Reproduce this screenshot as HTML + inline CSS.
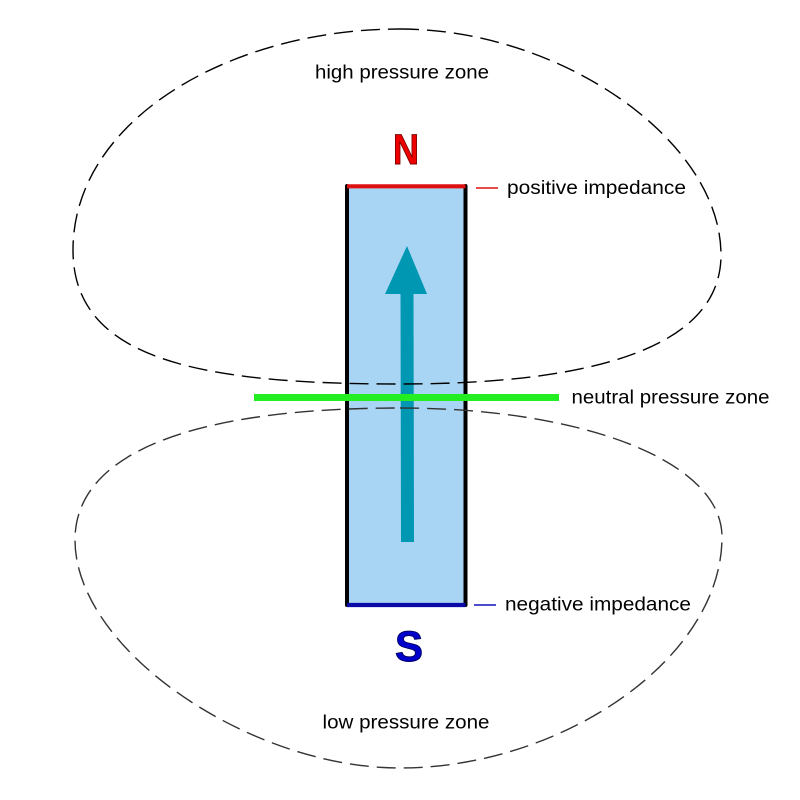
<!DOCTYPE html>
<html>
<head>
<meta charset="utf-8">
<style>
  html, body { margin: 0; padding: 0; background: #ffffff; }
  svg { display: block; }
  text { font-family: "Liberation Sans", Arial, sans-serif; }
</style>
</head>
<body>
<svg width="800" height="800" viewBox="0 0 800 800" xmlns="http://www.w3.org/2000/svg">
  <rect x="0" y="0" width="800" height="800" fill="#ffffff"/>

  <!-- magnet body -->
  <rect x="347" y="186" width="118.5" height="419" fill="#a8d5f3"/>
  <!-- arrow -->
  <polygon points="400.5,293 413.5,293 414,542 401,542" fill="#0097b3"/>
  <polygon points="407,246 385,294 427,294" fill="#0097b3"/>

  <!-- magnet borders -->
  <line x1="347" y1="186" x2="347" y2="605" stroke="#000" stroke-width="4" stroke-linecap="round"/>
  <line x1="465.5" y1="186" x2="465.5" y2="605" stroke="#000" stroke-width="4" stroke-linecap="round"/>
  <line x1="347" y1="186.3" x2="465.5" y2="186.3" stroke="#dd1111" stroke-width="4.2"/>
  <line x1="347" y1="605" x2="465.5" y2="605" stroke="#0a0aa8" stroke-width="4.2"/>

  <!-- high pressure lobe -->
  <path d="M400,29 C560,29 721,140 721,255 C721,345 600,384 400,384 C200,384 73,360 73,250 C73,120 230,29 400,29 Z"
        fill="none" stroke="#000" stroke-width="1.4" stroke-dasharray="19 8"/>
  <!-- low pressure lobe -->
  <path d="M400,408 C580,408 722,460 722,537 C722,660 560,768 400,768 C250,768 75,650 75,540 C75,450 200,408 400,408 Z"
        fill="none" stroke="#333" stroke-width="1.4" stroke-dasharray="19 8"/>

  <!-- neutral line -->
  <line x1="254" y1="397.5" x2="559" y2="397.5" stroke="#22ee22" stroke-width="7"/>

  <!-- small markers -->
  <line x1="476" y1="188" x2="498" y2="188" stroke="#dd1111" stroke-width="1.5"/>
  <line x1="474" y1="605" x2="496" y2="605" stroke="#1111bb" stroke-width="1.5"/>

  <!-- pole letters -->
  <text x="393" y="164" font-size="43" font-weight="bold" fill="#ee0000" stroke="#7a0000" stroke-width="1" textLength="26" lengthAdjust="spacingAndGlyphs">N</text>
  <text x="395" y="661" font-size="43" font-weight="bold" fill="#0000cc" stroke="#000066" stroke-width="1" textLength="28" lengthAdjust="spacingAndGlyphs">S</text>

  <!-- labels -->
  <text x="315" y="78.5" font-size="19" fill="#000" textLength="174" lengthAdjust="spacingAndGlyphs">high pressure zone</text>
  <text x="507" y="194" font-size="19" fill="#000" textLength="179" lengthAdjust="spacingAndGlyphs">positive impedance</text>
  <text x="571.5" y="403.5" font-size="19" fill="#000" textLength="198" lengthAdjust="spacingAndGlyphs">neutral pressure zone</text>
  <text x="505" y="610.5" font-size="19" fill="#000" textLength="186" lengthAdjust="spacingAndGlyphs">negative impedance</text>
  <text x="322.5" y="728.5" font-size="19" fill="#000" textLength="167" lengthAdjust="spacingAndGlyphs">low pressure zone</text>
</svg>
</body>
</html>
